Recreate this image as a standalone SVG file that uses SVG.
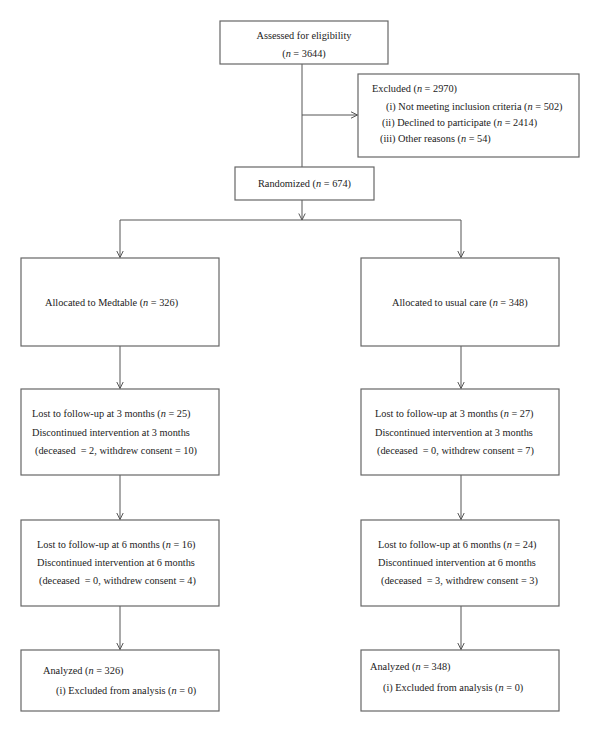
<svg xmlns="http://www.w3.org/2000/svg" width="600" height="732" viewBox="0 0 600 732">
<style>
.box{fill:#fff;stroke:#666;stroke-width:1.2}
.ln{fill:none;stroke:#555;stroke-width:1}
text{font-family:"Liberation Serif","Times New Roman",serif;font-size:10.3px;fill:#222}
.c{text-anchor:middle}
.i{font-style:italic}
</style>
<defs>
<marker id="arr" viewBox="0 0 8 8" refX="7.5" refY="4" markerWidth="8" markerHeight="8" markerUnits="userSpaceOnUse" orient="auto">
<path d="M1,0.8 L7.5,4 L1,7.2" fill="none" stroke="#555" stroke-width="1"/>
</marker>
</defs>
<rect width="600" height="732" fill="#fff"/>
<g id="connectors">
<path class="ln" d="M302,64 V167"/>
<path class="ln" d="M302,115 H357.5" marker-end="url(#arr)"/>
<path class="ln" d="M302,200 V220" marker-end="url(#arr)"/>
<path class="ln" d="M120,220 H461"/>
<path class="ln" d="M120,220 V257.5" marker-end="url(#arr)"/>
<path class="ln" d="M461,220 V257.5" marker-end="url(#arr)"/>
<path class="ln" d="M120,346 V388.5" marker-end="url(#arr)"/>
<path class="ln" d="M461,346 V388.5" marker-end="url(#arr)"/>
<path class="ln" d="M120,475 V519.5" marker-end="url(#arr)"/>
<path class="ln" d="M461,475 V519.5" marker-end="url(#arr)"/>
<path class="ln" d="M120,606 V649.5" marker-end="url(#arr)"/>
<path class="ln" d="M461,606 V649.5" marker-end="url(#arr)"/>
</g>
<g id="assessed">
<rect class="box" x="220" y="21" width="168" height="43"/>
<text class="c" x="304" y="38.5">Assessed for eligibility</text>
<text class="c" x="304" y="57">(<tspan class="i">n</tspan> = 3644)</text>
</g>
<g id="excluded">
<rect class="box" x="358" y="74" width="221" height="83"/>
<text x="372" y="91.5">Excluded (<tspan class="i">n</tspan> = 2970)</text>
<text x="386" y="109.5">(i) Not meeting inclusion criteria (<tspan class="i">n</tspan> = 502)</text>
<text x="382" y="125.5">(ii) Declined to participate (<tspan class="i">n</tspan> = 2414)</text>
<text x="380" y="141.5">(iii) Other reasons (<tspan class="i">n</tspan> = 54)</text>
</g>
<g id="randomized">
<rect class="box" x="235" y="167" width="139" height="33"/>
<text class="c" x="304.5" y="187">Randomized (<tspan class="i">n</tspan> = 674)</text>
</g>
<g id="alloc-medtable">
<rect class="box" x="21" y="258" width="198" height="88"/>
<text x="45" y="306">Allocated to Medtable (<tspan class="i">n</tspan> = 326)</text>
</g>
<g id="alloc-usual">
<rect class="box" x="361" y="258" width="198" height="88"/>
<text x="392" y="306">Allocated to usual care (<tspan class="i">n</tspan> = 348)</text>
</g>
<g id="lost3-left">
<rect class="box" x="21" y="389" width="198" height="86"/>
<text x="32" y="417">Lost to follow-up at 3 months (<tspan class="i">n</tspan> = 25)</text>
<text x="32" y="436">Discontinued intervention at 3 months</text>
<text x="35" y="454" xml:space="preserve">(deceased  = 2, withdrew consent = 10)</text>
</g>
<g id="lost3-right">
<rect class="box" x="361" y="389" width="198" height="86"/>
<text x="375" y="417">Lost to follow-up at 3 months (<tspan class="i">n</tspan> = 27)</text>
<text x="375" y="436">Discontinued intervention at 3 months</text>
<text x="377" y="454" xml:space="preserve">(deceased  = 0, withdrew consent = 7)</text>
</g>
<g id="lost6-left">
<rect class="box" x="21" y="520" width="198" height="86"/>
<text x="37" y="548">Lost to follow-up at 6 months (<tspan class="i">n</tspan> = 16)</text>
<text x="37" y="566">Discontinued intervention at 6 months</text>
<text x="39" y="584" xml:space="preserve">(deceased  = 0, withdrew consent = 4)</text>
</g>
<g id="lost6-right">
<rect class="box" x="361" y="520" width="198" height="86"/>
<text x="378" y="548">Lost to follow-up at 6 months (<tspan class="i">n</tspan> = 24)</text>
<text x="378" y="566">Discontinued intervention at 6 months</text>
<text x="381" y="584" xml:space="preserve">(deceased  = 3, withdrew consent = 3)</text>
</g>
<g id="analyzed-left">
<rect class="box" x="21" y="650" width="198" height="61"/>
<text x="43" y="673.5">Analyzed (<tspan class="i">n</tspan> = 326)</text>
<text x="56" y="693.5">(i) Excluded from analysis (<tspan class="i">n</tspan> = 0)</text>
</g>
<g id="analyzed-right">
<rect class="box" x="361" y="650" width="198" height="61"/>
<text x="370" y="669.5">Analyzed (<tspan class="i">n</tspan> = 348)</text>
<text x="383" y="690.5">(i) Excluded from analysis (<tspan class="i">n</tspan> = 0)</text>
</g>
</svg>
